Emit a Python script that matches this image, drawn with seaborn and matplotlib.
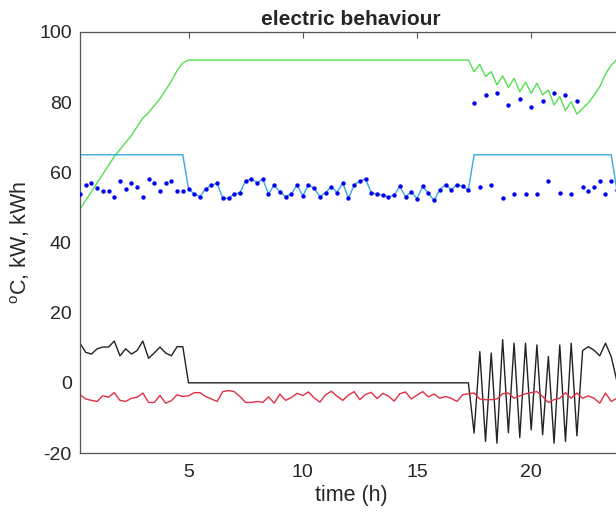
import numpy as np
import pandas as pd
import matplotlib
matplotlib.use("Agg")
import matplotlib.pyplot as plt
import seaborn as sns

# time axis, 15 min steps from 0.25 h to 24 h
time_h = np.arange(1, 97) * 0.25

# blue dots, split in three periods
dots_morning = [53.8, 56.4, 57.1, 55.5, 54.8, 54.8, 53.1, 57.5, 55.3, 57.1,
                55.9, 53.1, 58.1, 57.1, 54.8, 57.1, 57.5, 54.8, 54.8]
dots_day = [55.3, 53.8, 53.1, 55.3, 56.3, 56.9, 52.6, 52.6, 53.8, 54.2,
            57.6, 58.1, 57.0, 58.1, 53.8, 56.4, 54.3, 53.1, 53.8, 56.4,
            53.3, 56.4, 55.5, 53.1, 54.2, 55.9, 54.2, 57.0, 52.6, 56.4,
            57.5, 58.1, 54.2, 53.8, 53.5, 53.0, 53.5, 56.0, 53.0, 54.5,
            52.5, 56.0, 54.0, 52.0, 55.0, 56.5, 55.0, 56.5, 56.0, 55.0]
dots_evening = [79.8, 55.9, 82.1, 56.4, 82.6, 52.6, 79.2, 53.8, 80.9, 53.8,
                78.6, 53.8, 80.3, 57.6, 82.6, 54.2, 82.1, 53.8, 80.3, 55.9,
                54.8, 55.9, 57.6, 53.8, 57.6, 55.0, 55.5]
dots = dots_morning + dots_day + dots_evening

# cyan line: 65 while charging, otherwise follows the dots
cyan = [65.0] * 19 + dots_day + [65.0] * 25 + [55.0, 55.5]

green = [49.5, 52.0, 54.5, 57.0, 59.5, 62.0, 64.5, 66.5, 68.5, 70.5,
         73.0, 75.5, 77.0, 79.0, 81.0, 83.5, 86.0, 89.0, 91.2, 92.0] + [92.0] * 49 + \
        [88.7, 90.8, 87.3, 88.7, 84.9, 87.5, 84.2, 86.8, 83.0, 85.7,
         82.5, 85.4, 82.1, 83.5, 79.2, 81.6, 77.6, 80.1, 76.6, 78.2,
         79.8, 82.0, 84.4, 88.0, 90.5, 92.2, 93.5]

black = [11.3, 8.7, 8.2, 9.7, 10.2, 10.2, 11.9, 7.7, 9.7, 8.2,
         9.2, 11.9, 7.0, 8.5, 10.2, 8.5, 7.7, 10.3, 10.3] + [0.0] * 50 + \
        [-14.3, 8.9, -16.7, 8.5, -17.2, 12.3, -14.2, 11.3, -15.6, 11.3,
         -13.4, 10.8, -14.8, 7.5, -17.2, 10.8, -16.7, 11.3, -15.1, 9.2,
         10.3, 9.3, 7.7, 11.3, 7.5, 0.5, 0.0]

red = [-3.4, -4.6, -5.0, -5.3, -3.7, -4.1, -2.8, -5.0, -5.3, -4.4,
       -4.1, -2.9, -5.6, -5.6, -3.6, -5.8, -5.1, -3.4, -3.9, -3.7,
       -2.8, -2.8, -3.9, -4.6, -5.3, -2.5, -2.2, -2.5, -3.9, -5.6,
       -5.6, -5.3, -5.6, -4.0, -5.8, -3.2, -5.0, -4.2, -3.0, -3.6,
       -2.6, -4.3, -5.5, -3.4, -2.4, -3.8, -5.0, -3.5, -2.5, -4.8,
       -3.3, -2.7, -4.5, -3.0, -3.8, -5.2, -3.1, -2.6, -4.6, -3.5,
       -2.5, -4.0, -3.2, -4.4, -3.9, -4.4, -5.3, -3.4, -3.1, -2.9,
       -4.6, -4.8, -4.8, -4.6, -3.1, -2.9, -4.4, -3.7, -3.1, -2.8,
       -2.5, -3.9, -5.6, -4.8, -4.4, -2.8, -4.4, -2.9, -4.4, -3.7,
       -4.4, -5.8, -2.9, -5.3, -4.4, -4.0]

df = pd.DataFrame({"t": time_h, "dots": dots, "cyan": cyan,
                   "green": green, "black": black, "red": red})

sns.set_style("white")
plt.rcParams["font.family"] = ["Liberation Sans", "DejaVu Sans"]
plt.rcParams["axes.unicode_minus"] = False

fig = plt.figure(figsize=(6.16, 5.16), dpi=100)
ax = fig.add_axes([80 / 616, 1 - 453 / 516, 542.6 / 616, 421 / 516])

sns.lineplot(data=df, x="t", y="green", color="#52e052", lw=1.0, ax=ax, estimator=None, sort=False)
sns.lineplot(data=df, x="t", y="cyan", color="#36a9e0", lw=1.0, ax=ax, estimator=None, sort=False)
sns.lineplot(data=df, x="t", y="black", color="#222222", lw=1.0, ax=ax, estimator=None, sort=False)
sns.lineplot(data=df, x="t", y="red", color="#e03048", lw=1.0, ax=ax, estimator=None, sort=False)
sns.scatterplot(data=df, x="t", y="dots", color="#0000ee", s=10, linewidth=0, ax=ax, zorder=5)

ax.set_xlim(0.25, 24)
ax.set_ylim(-20, 100)
ax.set_xticks([5, 10, 15, 20])
ax.set_yticks([-20, 0, 20, 40, 60, 80, 100])
ax.tick_params(direction="in", top=True, right=True, length=4, width=0.8,
               color="#555555", labelsize=14)
ax.tick_params(axis="x", pad=8)
ax.tick_params(axis="y", pad=6)
for sp in ax.spines.values():
    sp.set_color("#555555")
    sp.set_linewidth(0.9)

ax.set_xlabel("time (h)", fontsize=15.5, labelpad=3)
ax.set_ylabel("$^{\\mathregular{o}}$C, kW, kWh", fontsize=15.5, labelpad=5)
ax.set_title("electric behaviour", fontsize=15, fontweight="bold", pad=5)

fig.savefig("out.png", dpi=100)
